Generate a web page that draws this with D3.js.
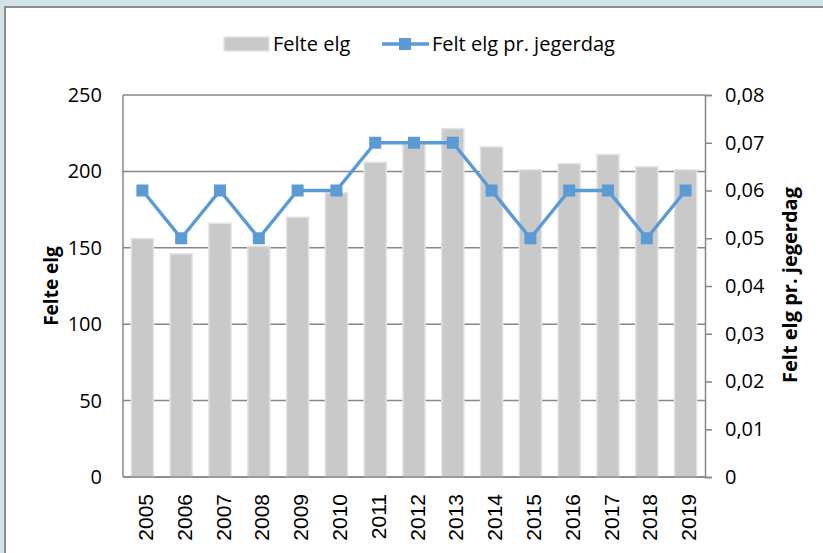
<!DOCTYPE html>
<html lang="no">
<head>
<meta charset="utf-8">
<title>Felte elg</title>
<script src="https://cdn.jsdelivr.net/npm/d3@7"></script>
<style>
  html, body { margin: 0; padding: 0; background: #d3e4e7; }
  svg { display: block; }
  .tick-lbl { font-family: "Open Sans", sans-serif; font-size: 20px; fill: #000; }
  .year-lbl { font-family: "Liberation Sans", Arial, sans-serif; font-size: 21px; fill: #000; }
  .ax-title { font-family: "Open Sans", sans-serif; font-size: 19px; font-weight: bold; fill: #000; }
  .ax-title.right { font-size: 20px; }
  .leg-lbl { font-family: "Open Sans", sans-serif; font-size: 20px; fill: #000; }
</style>
</head>
<body>
<div id="chart"></div>
<script>
  var years = ["2005","2006","2007","2008","2009","2010","2011","2012","2013","2014","2015","2016","2017","2018","2019"];
  var felteElg = [156, 146, 166, 151, 170, 186, 206, 218, 228, 216, 201, 205, 211, 203, 201];
  var pelJegerdag = [0.06, 0.05, 0.06, 0.05, 0.06, 0.06, 0.07, 0.07, 0.07, 0.06, 0.05, 0.06, 0.06, 0.05, 0.06];
  var leftTicks = [0, 50, 100, 150, 200, 250];
  var rightTicks = [0, 0.01, 0.02, 0.03, 0.04, 0.05, 0.06, 0.07, 0.08];

  var width = 823, height = 553;
  var plot = { left: 123, right: 705, top: 95, bottom: 477 };
  var axisGray = "#878787";
  var lineBlue = "#5b9bd5";

  var svg = d3.select("#chart").append("svg")
      .attr("width", width)
      .attr("height", height);

  // frame
  svg.append("rect")
      .attr("x", 0).attr("y", 0).attr("width", width).attr("height", height)
      .attr("fill", "#d3e4e7");
  svg.append("rect")
      .attr("x", 5).attr("y", 7).attr("width", width).attr("height", height)
      .attr("fill", "#fff")
      .attr("stroke", "#8e8e8e")
      .attr("stroke-width", 2);

  var x = d3.scaleBand()
      .domain(years)
      .range([plot.left, plot.right])
      .paddingInner(0.43)
      .paddingOuter(0.215);

  var yLeft = d3.scaleLinear().domain([0, 250]).range([plot.bottom, plot.top]);
  var yRight = d3.scaleLinear().domain([0, 0.08]).range([plot.bottom, plot.top]);

  // gridlines
  svg.append("g").selectAll("line")
      .data(leftTicks)
      .enter().append("line")
      .attr("x1", plot.left).attr("x2", plot.right)
      .attr("y1", function(d) { return yLeft(d); })
      .attr("y2", function(d) { return yLeft(d); })
      .attr("stroke", axisGray)
      .attr("stroke-width", 1.5);

  // bars
  svg.append("g").selectAll("rect")
      .data(felteElg)
      .enter().append("rect")
      .attr("x", function(d, i) { return x(years[i]); })
      .attr("y", function(d) { return yLeft(d); })
      .attr("width", x.bandwidth())
      .attr("height", function(d) { return plot.bottom - yLeft(d); })
      .attr("fill", "#c9c9c9")
      .attr("stroke", "#e2e2e2")
      .attr("stroke-width", 1.5);

  // axis lines
  svg.append("line")
      .attr("x1", plot.left).attr("x2", plot.left)
      .attr("y1", plot.top).attr("y2", plot.bottom)
      .attr("stroke", axisGray).attr("stroke-width", 1.5);
  svg.append("line")
      .attr("x1", plot.left).attr("x2", plot.right)
      .attr("y1", plot.bottom).attr("y2", plot.bottom)
      .attr("stroke", axisGray).attr("stroke-width", 1.5);

  // right axis
  var rightAxis = d3.axisRight(yRight)
      .tickValues(rightTicks)
      .tickSize(7)
      .tickPadding(13)
      .tickFormat(function(d) { return d === 0 ? "0" : d3.format(".2f")(d).replace(".", ","); });
  var gR = svg.append("g")
      .attr("transform", "translate(" + plot.right + ",0)")
      .call(rightAxis);
  gR.select(".domain").attr("stroke", axisGray).attr("stroke-width", 1.5);
  gR.selectAll(".tick line").attr("stroke", axisGray).attr("stroke-width", 1.5);
  gR.selectAll(".tick text").attr("class", "tick-lbl");
  gR.attr("font-size", null).attr("font-family", null);

  // left tick labels
  var leftAxis = d3.axisLeft(yLeft)
      .tickValues(leftTicks)
      .tickSize(0)
      .tickPadding(21);
  var gL = svg.append("g")
      .attr("transform", "translate(" + plot.left + ",0)")
      .call(leftAxis);
  gL.select(".domain").remove();
  gL.attr("font-size", null).attr("font-family", null);
  gL.selectAll(".tick text").attr("class", "tick-lbl");

  // year labels
  svg.append("g").selectAll("text")
      .data(years)
      .enter().append("text")
      .attr("class", "year-lbl")
      .attr("transform", function(d) {
        return "translate(" + (x(d) + x.bandwidth() / 2 + 3) + "," + (plot.bottom + 17) + ") rotate(-90)";
      })
      .attr("text-anchor", "end")
      .attr("dy", "0.36em")
      .text(function(d) { return d; });

  // line series
  var line = d3.line()
      .x(function(d, i) { return x(years[i]) + x.bandwidth() / 2; })
      .y(function(d) { return yRight(d); });

  svg.append("path")
      .datum(pelJegerdag)
      .attr("d", line)
      .attr("fill", "none")
      .attr("stroke", lineBlue)
      .attr("stroke-width", 3.5)
      .attr("stroke-linejoin", "round");

  svg.append("g").selectAll("rect")
      .data(pelJegerdag)
      .enter().append("rect")
      .attr("x", function(d, i) { return x(years[i]) + x.bandwidth() / 2 - 6; })
      .attr("y", function(d) { return yRight(d) - 6; })
      .attr("width", 12)
      .attr("height", 12)
      .attr("fill", lineBlue);

  // axis titles
  svg.append("text")
      .attr("class", "ax-title")
      .attr("transform", "translate(51,286) rotate(-90)")
      .attr("text-anchor", "middle")
      .attr("dy", "0.35em")
      .text("Felte elg");

  svg.append("text")
      .attr("class", "ax-title right")
      .attr("transform", "translate(790,285) rotate(-90)")
      .attr("text-anchor", "middle")
      .attr("dy", "0.35em")
      .text("Felt elg pr. jegerdag");

  // legend
  var leg = svg.append("g");
  leg.append("rect")
      .attr("x", 224).attr("y", 37).attr("width", 45).attr("height", 14)
      .attr("fill", "#c9c9c9")
      .attr("stroke", "#e2e2e2")
      .attr("stroke-width", 1.5);
  leg.append("text")
      .attr("class", "leg-lbl")
      .attr("x", 273).attr("y", 44)
      .attr("dy", "0.35em")
      .text("Felte elg");
  leg.append("line")
      .attr("x1", 382).attr("x2", 429).attr("y1", 44).attr("y2", 44)
      .attr("stroke", lineBlue).attr("stroke-width", 3.5);
  leg.append("rect")
      .attr("x", 399).attr("y", 38).attr("width", 12).attr("height", 12)
      .attr("fill", lineBlue);
  leg.append("text")
      .attr("class", "leg-lbl")
      .attr("x", 432).attr("y", 44)
      .attr("dy", "0.35em")
      .text("Felt elg pr. jegerdag");
</script>
</body>
</html>
